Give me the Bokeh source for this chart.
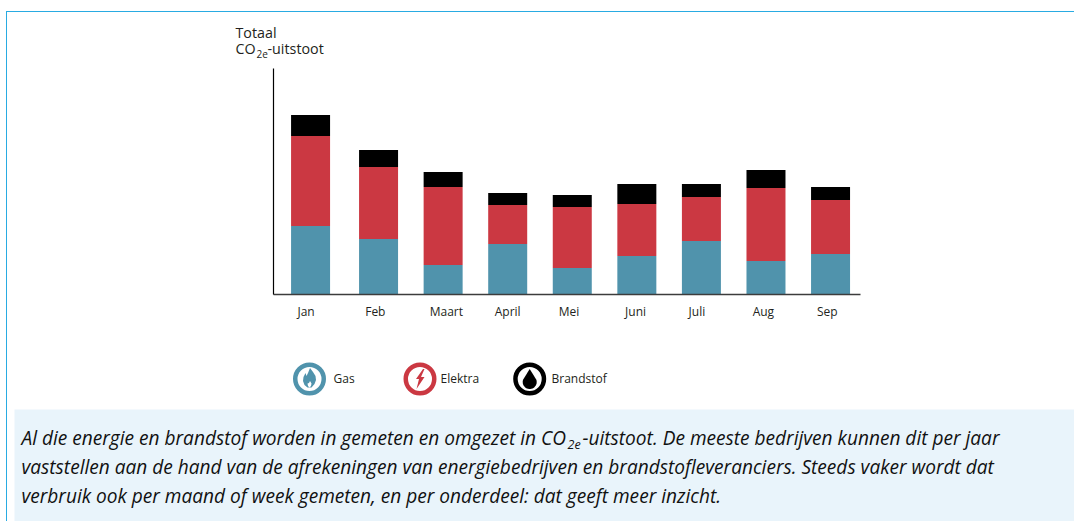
import numpy as np
from bokeh.plotting import figure
from bokeh.embed import file_html
from bokeh.resources import INLINE
from bokeh.core.properties import value
from bokeh.models import Range1d, LinearAxis, FixedTicker, ColumnDataSource

months = ["Jan", "Feb", "Maart", "April", "Mei", "Juni", "Juli", "Aug", "Sep"]
gas = [68, 55, 29, 50, 26, 38, 53, 33, 40]
elektra = [90, 72, 78, 39, 61, 52, 44, 73, 54]
brandstof = [21, 17, 15, 12, 12, 20, 13, 18, 13]
series = ["gas", "elektra", "brandstof"]
colors = ["#5093AC", "#CB3842", "#000000"]

W, H = 1074, 521
FONT = "Open Sans"
TXT = "#231F20"

p = figure(width=W, height=H, output_backend="svg", toolbar_location=None,
           margin=0, min_border=0,
           x_range=Range1d(-4.855, 11.778), y_range=Range1d(-227.5, 293.5),
           outline_line_color=None, border_fill_color="white",
           x_axis_type=None, y_axis_type=None)
p.grid.visible = False
p.extra_x_ranges["px"] = Range1d(0, W)
p.extra_y_ranges["px"] = Range1d(H, 0)


def box(l, r, t, b, c):
    p.quad(left=l, right=r, top=t, bottom=b, color=c, line_width=0,
           x_range_name="px", y_range_name="px")


def text(x, y, s, size=13.0, style="normal", color=TXT):
    p.text(x=[x], y=[y - 0.42 * size], text=[s], text_font=value(FONT),
           text_font_size=value(f"{size}px"), text_font_style=style, text_color=color,
           text_baseline="alphabetic", x_range_name="px", y_range_name="px")


def patch(xs, ys, c):
    p.patch(xs, ys, color=c, line_width=0, x_range_name="px", y_range_name="px")


# page frame and caption box
box(14, W, 409, H, "#E9F4FB")
box(5.5, 6.5, 11, H, "#29ABE2")
box(5.5, W, 10.5, 11.5, "#29ABE2")

# stacked bars; Jan sits slightly further from Feb
slots = np.arange(len(months), dtype=float)
slots[0] = -0.053
nudge = np.array([-0.07, -0.05, 0.05, 0.0, -0.05, -0.02, -0.07, -0.04, -0.05])
src = ColumnDataSource(dict(x=slots, gas=gas, elektra=elektra, brandstof=brandstof))
p.vbar_stack(series, x="x", width=0.604, source=src, color=colors, line_width=0)

ticks = [round(float(v), 3) for v in slots + nudge]
xaxis = LinearAxis(ticker=FixedTicker(ticks=ticks), fixed_location=0, bounds=(-0.63, 8.457),
                   major_label_overrides={t: m for t, m in zip(ticks, months)},
                   major_tick_line_color=None, minor_tick_line_color=None,
                   axis_line_color="#3c3c3c", axis_line_width=1.5,
                   major_label_text_font=FONT, major_label_text_font_size="12px",
                   major_label_text_color=TXT, major_label_standoff=3)
p.add_layout(xaxis, "below")
yaxis = LinearAxis(ticker=FixedTicker(ticks=[]), fixed_location=-0.63, bounds=(0, 225.5),
                   major_tick_line_color=None, minor_tick_line_color=None,
                   axis_line_color="#000000", axis_line_width=1.2,
                   major_label_text_font_size="0px")
p.add_layout(yaxis, "left")

# axis title
text(235, 38, "Totaal", size=14.3)
text(235, 54, "CO", size=14.3)
text(256, 58, "2e", size=10)
text(267, 54, "-uitstoot", size=14.3)

# legend
gx, ex, bx, ly = 309, 419.5, 529.2, 378.5
p.scatter([gx, ex, bx], [ly, ly, ly], size=28.5, fill_color="white", line_color=colors,
          line_width=4.5, x_range_name="px", y_range_name="px")
patch(gx + np.array([0.5, 3.5, 6, 6.5, 5, 2, -2, -5, -6.5, -6, -4, -3, -1.5]),
      ly + np.array([-11, -7, -3, 1, 5, 8.5, 8.5, 6, 2, -2, -6, -3, -6]), colors[0])
patch(gx + np.array([0.5, 2, 1.5, 0, -1.5, -2, -0.5]),
      ly + np.array([2, 4.5, 7, 8.5, 7, 4.5, 4]), "white")
patch(ex + np.array([3, -4, -1, -3.5, 4.5, 1, 4.5]),
      ly + np.array([-10, 0, 0, 10, -2, -2, -10]), colors[1])
dt = np.linspace(-0.1 * np.pi, 1.1 * np.pi, 24)
patch(bx + np.r_[0, 7 * np.cos(dt)], ly + np.r_[-10, 3 + 7 * np.sin(dt)], "#000000")
text(333, 383, "Gas", size=12)
text(440, 383, "Elektra", size=12)
text(551, 383, "Brandstof", size=12)

# caption
c = 19.1
ink = "#111111"
text(21, 445.5, "Al die energie en brandstof worden in gemeten en omgezet in CO", size=c, style="italic", color=ink)
text(567, 449.5, "2e", size=12.5, style="italic", color=ink)
text(582, 445.5, "-uitstoot. De meeste bedrijven kunnen dit per jaar", size=c, style="italic", color=ink)
text(21, 474.5, "vaststellen aan de hand van de afrekeningen van energiebedrijven en brandstofleveranciers. Steeds vaker wordt dat", size=c, style="italic", color=ink)
text(21, 503.5, "verbruik ook per maand of week gemeten, en per onderdeel: dat geeft meer inzicht.", size=c, style="italic", color=ink)

open("out.html", "w").write(file_html(p, INLINE))
